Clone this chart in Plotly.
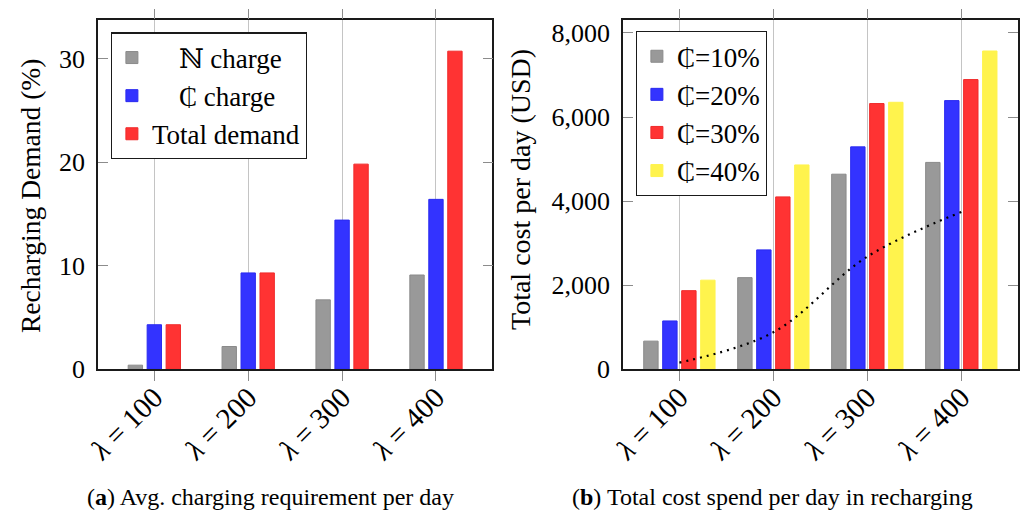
import plotly.graph_objects as go

# ---- data ----------------------------------------------------------------
lambdas = ["100", "200", "300", "400"]
lambda_ticks = ["<i>λ</i> = 100", "<i>λ</i> = 200", "<i>λ</i> = 300", "<i>λ</i> = 400"]

# (a) recharging demand, %
demand_labels = ["\u00a0\u00a0\u00a0\u00a0ℕ charge", "\u00a0\u00a0\u00a0\u00a0₵ charge", "Total demand"]
n_charge = [0.4, 2.2, 6.7, 9.1]
c_charge = [4.3, 9.3, 14.4, 16.4]
total_demand = [4.3, 9.3, 19.8, 30.7]

# (b) total cost per day, USD
cost_labels = ["₵=10%", "₵=20%", "₵=30%", "₵=40%"]
cost_10 = [670, 2180, 4640, 4920]
cost_20 = [1150, 2840, 5290, 6390]
cost_30 = [1870, 4100, 6320, 6890]
cost_40 = [2120, 4860, 6350, 7570]
cost_trend = [160, 880, 2680, 3740]

# ---- styling -------------------------------------------------------------
W, H = 1024, 518
FONT = "Liberation Serif, DejaVu Serif, serif"
GRAY, BLUE, RED, YELLOW = "#999999", "#3333ff", "#ff3333", "#fff34d"
EDGE = {GRAY: "#8a8a8a", BLUE: "#2a2af0", RED: "#f02a2a", YELLOW: "#fff34d"}

BAR_W = 0.153     # bar width in category units
STRIDE = 0.202    # distance between neighbouring bars in a group

fig = go.Figure()


def add_group(series, names, colors, xa, ya, legend, show_legend=True):
    n = len(series)
    for i, (vals, name, col) in enumerate(zip(series, names, colors)):
        centre = (i - (n - 1) / 2) * STRIDE
        fig.add_trace(go.Bar(
            x=lambdas, y=vals, name=name,
            width=BAR_W, offset=centre - BAR_W / 2,
            marker=dict(color=col, line=dict(color=EDGE[col], width=1)),
            xaxis=xa, yaxis=ya, legend=legend, showlegend=show_legend,
            hoverinfo="x+y",
        ))


add_group([n_charge, c_charge, total_demand], demand_labels,
          [GRAY, BLUE, RED], "x", "y", "legend")

add_group([cost_10, cost_20, cost_30, cost_40],
          cost_labels, [GRAY, BLUE, RED, YELLOW], "x2", "y2", "legend2")

fig.add_trace(go.Scatter(
    x=lambdas, y=cost_trend, mode="lines",
    line=dict(color="black", width=2.2, dash="2px,5px", shape="spline"),
    xaxis="x2", yaxis="y2", showlegend=False, hoverinfo="skip",
))

# ---- axes ----------------------------------------------------------------
def px_x(a, b):
    return [a / W, b / W]


y_dom = [1 - 369.3 / H, 1 - 20.3 / H]

xcommon = dict(
    type="category", categoryorder="array", categoryarray=lambdas,
    tickvals=lambdas, ticktext=lambda_ticks, tickangle=-45,
    tickfont=dict(family=FONT, size=29, color="black"),
    ticks="outside", ticklen=10, tickcolor="#8c8c8c", tickwidth=1.2,
    ticklabelstandoff=-12,
    showgrid=True, gridcolor="#c4c4c4", gridwidth=1.2,
    showline=True, linecolor="#1a1a1a", linewidth=1.5, mirror="ticks",
    range=[-0.6, 3.6], automargin=False, zeroline=False,
)
ycommon = dict(
    tickfont=dict(family=FONT, size=26, color="black"),
    ticks="inside", ticklen=10, tickcolor="#8c8c8c", tickwidth=1.2,
    showgrid=False, zeroline=False,
    showline=True, linecolor="#1a1a1a", linewidth=1.5, mirror="ticks",
    automargin=False, ticklabelstandoff=6,
)

legend_common = dict(
    xanchor="left", yanchor="top",
    bgcolor="white", bordercolor="#1a1a1a", borderwidth=1.2,
    font=dict(family=FONT, size=27, color="black"),
    tracegroupgap=0, itemwidth=30,
)

fig.update_layout(
    xaxis=dict(domain=px_x(98, 492.3), anchor="y", **xcommon),
    yaxis=dict(domain=y_dom, anchor="x", range=[0, 33.68],
               tickvals=[0, 10, 20, 30], **ycommon),
    xaxis2=dict(domain=px_x(623, 1017.7), anchor="y2", **xcommon),
    yaxis2=dict(domain=y_dom, anchor="x2", range=[0, 8300],
                tickvals=[0, 2000, 4000, 6000, 8000], tickformat=",d",
                **ycommon),
    barmode="overlay",
    width=W, height=H,
    margin=dict(l=0, r=0, t=0, b=0),
    paper_bgcolor="white", plot_bgcolor="white",
    font=dict(family=FONT, size=25, color="black"),
    legend=dict(x=110.7 / W, y=1 - 32.3 / H, **legend_common),
    legend2=dict(x=635.7 / W, y=1 - 31 / H, **legend_common),
)

# ---- axis titles and captions -------------------------------------------
def note(text, x, y, size, angle=0):
    fig.add_annotation(text=text, x=x / W, y=1 - y / H, xref="paper", yref="paper",
                       xanchor="center", yanchor="middle", textangle=angle,
                       showarrow=False, font=dict(family=FONT, size=size, color="black"))


note("Recharging Demand (%)", 30, 196, 27.5, -90)
note("Total cost per day (USD)", 521, 190, 28, -90)
note("(<b>a</b>) Avg. charging requirement per day", 270, 497, 24)
note("(<b>b</b>) Total cost spend per day in recharging", 772, 497, 24)

fig.write_html("out.html")
